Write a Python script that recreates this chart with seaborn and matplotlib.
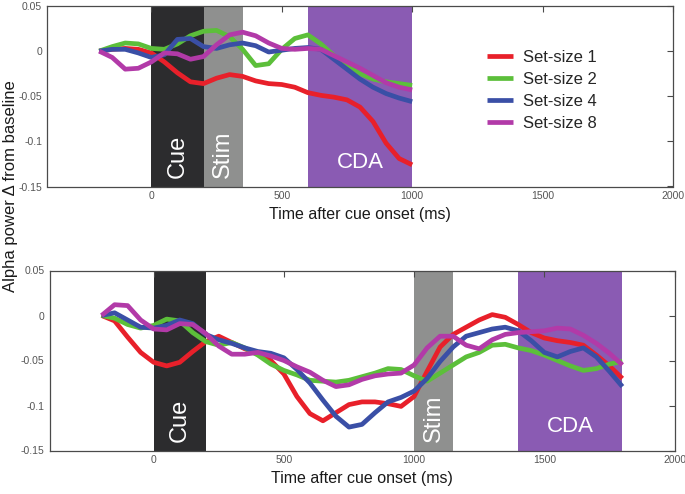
import matplotlib
matplotlib.use("Agg")
import matplotlib.pyplot as plt
import pandas as pd
import seaborn as sns

sns.set_theme(style="white")
plt.rcParams["font.family"] = ["Liberation Sans", "DejaVu Sans"]

series_names = ["Set-size 1", "Set-size 2", "Set-size 4", "Set-size 8"]
series_colors = ["#e8202a", "#5cbf3a", "#3a4fa6", "#b23aa8"]

# ---- top panel data (time in ms, alpha power change) ----
time_top = [-200, -150, -100, -50, 0, 50, 100, 150, 200, 250, 300, 350, 400,
            450, 500, 550, 600, 650, 700, 750, 800, 850, 900, 950, 1000]
top_ss1 = [0, 0.002, 0.003, 0.002, -0.002, -0.012, -0.024, -0.034, -0.036, -0.030,
           -0.026, -0.028, -0.033, -0.036, -0.037, -0.040, -0.046, -0.049, -0.051,
           -0.054, -0.062, -0.078, -0.102, -0.119, -0.126]
top_ss2 = [0, 0.005, 0.009, 0.008, 0.003, 0.002, 0.008, 0.017, 0.022, 0.023,
           0.016, 0.002, -0.016, -0.014, 0.002, 0.014, 0.018, 0.008, -0.005,
           -0.016, -0.025, -0.031, -0.034, -0.036, -0.038]
top_ss4 = [0, 0.002, 0.002, -0.002, -0.007, -0.004, 0.013, 0.014, 0.005, 0.003,
           0.007, 0.009, 0.006, -0.001, 0.001, 0.003, 0.004, 0.002, -0.009,
           -0.020, -0.031, -0.040, -0.047, -0.052, -0.056]
top_ss8 = [0, -0.007, -0.020, -0.019, -0.012, -0.002, -0.003, -0.009, -0.006, 0.007,
           0.018, 0.021, 0.017, 0.009, 0.003, 0.002, 0.003, 0.002, -0.005,
           -0.012, -0.019, -0.027, -0.035, -0.040, -0.043]

# ---- bottom panel data ----
time_bottom = [-200, -150, -100, -50, 0, 50, 100, 150, 200, 250, 300, 350, 400,
               450, 500, 550, 600, 650, 700, 750, 800, 850, 900, 950, 1000, 1050,
               1100, 1150, 1200, 1250, 1300, 1350, 1400, 1450, 1500, 1550, 1600,
               1650, 1700, 1750, 1800]
bot_ss1 = [0, -0.006, -0.024, -0.041, -0.052, -0.056, -0.052, -0.040, -0.029, -0.023,
           -0.030, -0.037, -0.042, -0.050, -0.065, -0.090, -0.109, -0.117, -0.108,
           -0.099, -0.096, -0.096, -0.098, -0.101, -0.090, -0.062, -0.035, -0.021,
           -0.013, -0.005, 0.001, -0.002, -0.010, -0.019, -0.025, -0.028, -0.030,
           -0.033, -0.044, -0.056, -0.070]
bot_ss2 = [0, -0.003, -0.010, -0.014, -0.011, -0.004, -0.006, -0.019, -0.029, -0.033,
           -0.030, -0.036, -0.044, -0.054, -0.061, -0.066, -0.072, -0.073, -0.074,
           -0.072, -0.068, -0.064, -0.059, -0.060, -0.067, -0.073, -0.064, -0.055,
           -0.046, -0.041, -0.033, -0.032, -0.036, -0.039, -0.044, -0.050, -0.056,
           -0.061, -0.059, -0.054, -0.051]
bot_ss4 = [0, 0.003, -0.005, -0.013, -0.014, -0.011, -0.005, -0.009, -0.021, -0.027,
           -0.031, -0.036, -0.040, -0.042, -0.047, -0.060, -0.075, -0.094, -0.112,
           -0.124, -0.121, -0.108, -0.096, -0.091, -0.084, -0.070, -0.051, -0.035,
           -0.023, -0.019, -0.015, -0.013, -0.017, -0.028, -0.041, -0.046, -0.040,
           -0.036, -0.046, -0.062, -0.079]
bot_ss8 = [0, 0.012, 0.011, -0.005, -0.015, -0.016, -0.009, -0.010, -0.020, -0.034,
           -0.043, -0.043, -0.041, -0.045, -0.050, -0.057, -0.063, -0.072, -0.079,
           -0.077, -0.071, -0.067, -0.065, -0.064, -0.055, -0.036, -0.023, -0.023,
           -0.033, -0.037, -0.027, -0.021, -0.019, -0.018, -0.017, -0.014, -0.015,
           -0.022, -0.031, -0.042, -0.055]

# ---- event windows ----
events_top = [("Cue", 0, 200), ("Stim", 200, 350), ("CDA", 600, 1000)]
events_bottom = [("Cue", 0, 200), ("Stim", 1000, 1150), ("CDA", 1400, 1800)]
event_colors = {"Cue": "#2c2c2e", "Stim": "#8f908f", "CDA": "#8a5bb3"}

x_ticks = [0, 500, 1000, 1500, 2000]
x_tick_labels = ["0", "500", "1000", "1500", "2000"]
y_ticks = [-0.15, -0.1, -0.05, 0, 0.05]
y_tick_labels = ["-0.15", "-0.1", "-0.05", "0", "0.05"]
x_label = "Time after cue onset (ms)"
y_label = "Alpha power \u0394 from baseline"


def long_df(times, arrays):
    rows = []
    for name, vals in zip(series_names, arrays):
        for t, v in zip(times, vals):
            rows.append({"time": t, "value": v, "series": name})
    return pd.DataFrame(rows)


df_top = long_df(time_top, [top_ss1, top_ss2, top_ss4, top_ss8])
df_bot = long_df(time_bottom, [bot_ss1, bot_ss2, bot_ss4, bot_ss8])

W, H = 685, 494
fig = plt.figure(figsize=(W / 100, H / 100), dpi=100)
ax_top = fig.add_axes([47 / W, 1 - 186.5 / H, 626 / W, 180.5 / H])
ax_bot = fig.add_axes([49.5 / W, 1 - 450.5 / H, 625 / W, 180 / H])

spine_color = "#4a4a4a"


def draw_panel(ax, df, events):
    for name, a, b in events:
        ax.axvspan(a, b, color=event_colors[name], lw=0, zorder=0)
    sns.lineplot(data=df, x="time", y="value", hue="series",
                 hue_order=series_names, palette=series_colors,
                 linewidth=3.4, ax=ax, legend=False, sort=False,
                 estimator=None, zorder=3)
    for line in ax.lines:
        line.set_solid_joinstyle("round")
        line.set_solid_capstyle("butt")
    for name, a, b in events:
        cx = (a + b) / 2
        if name == "CDA":
            ax.text(cx, -0.123, name, color="white", ha="center", va="center",
                    fontsize=16, zorder=4)
        else:
            ax.text(cx, -0.141, name, color="white", ha="center", va="bottom",
                    rotation=90, fontsize=17, zorder=4)
    ax.set_xlim(-400, 2000)
    ax.set_ylim(-0.15, 0.05)
    ax.set_xticks(x_ticks)
    ax.set_xticklabels(x_tick_labels)
    ax.set_yticks(y_ticks)
    ax.set_yticklabels(y_tick_labels)
    ax.tick_params(direction="in", top=True, right=True, length=4, width=0.8,
                   color=spine_color, labelcolor="#555555", labelsize=7.5, pad=3.5)
    for s in ax.spines.values():
        s.set_color(spine_color)
        s.set_linewidth(0.9)
        s.set_visible(True)
    ax.set_xlabel(x_label, fontsize=11.5, color="#1a1a1a", labelpad=4)
    ax.set_ylabel("")
    ax.set_facecolor("white")
    ax.grid(False)


draw_panel(ax_top, df_top, events_top)
draw_panel(ax_bot, df_bot, events_bottom)

fig.text(11 / W, 1 - 186 / H, y_label, rotation=90, ha="center", va="center",
         fontsize=12, color="#1a1a1a")

handles = ax_top.lines[:4]
fig.legend(handles, series_names, loc="upper left",
           bbox_to_anchor=(487 / W, 1 - 50 / H), frameon=False,
           fontsize=12, handlelength=1.55, handletextpad=0.6,
           labelspacing=0.42, borderpad=0, borderaxespad=0)

fig.savefig("out.png", dpi=100, facecolor="white")
